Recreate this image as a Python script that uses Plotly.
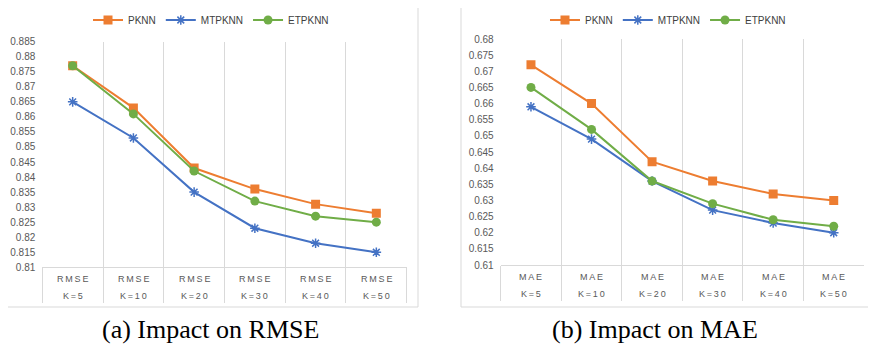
import plotly.graph_objects as go

# page body has an 8px margin; lay out in page pixel coordinates and shift
OFF = 8
PAGE_W, PAGE_H = 876, 346
W, H = PAGE_W - OFF, PAGE_H - OFF

categories = ["K=5", "K=10", "K=20", "K=30", "K=40", "K=50"]

rmse_pknn = [0.877, 0.863, 0.843, 0.836, 0.831, 0.828]
rmse_mtpknn = [0.865, 0.853, 0.835, 0.823, 0.818, 0.815]
rmse_etpknn = [0.877, 0.861, 0.842, 0.832, 0.827, 0.825]

mae_pknn = [0.672, 0.660, 0.642, 0.636, 0.632, 0.630]
mae_mtpknn = [0.659, 0.649, 0.636, 0.627, 0.623, 0.620]
mae_etpknn = [0.665, 0.652, 0.636, 0.629, 0.624, 0.622]

rmse_ticks = [0.81, 0.815, 0.82, 0.825, 0.83, 0.835, 0.84, 0.845, 0.85,
              0.855, 0.86, 0.865, 0.87, 0.875, 0.88, 0.885]
rmse_ticktext = ["0.81", "0.815", "0.82", "0.825", "0.83", "0.835", "0.84", "0.845",
                 "0.85", "0.855", "0.86", "0.865", "0.87", "0.875", "0.88", "0.885"]
mae_ticks = [0.61, 0.615, 0.62, 0.625, 0.63, 0.635, 0.64, 0.645,
             0.65, 0.655, 0.66, 0.665, 0.67, 0.675, 0.68]
mae_ticktext = ["0.61", "0.615", "0.62", "0.625", "0.63", "0.635", "0.64", "0.645",
                "0.65", "0.655", "0.66", "0.665", "0.67", "0.675", "0.68"]

series_names = ["PKNN", "MTPKNN", "ETPKNN"]
colors = ["#ED7D31", "#4472C4", "#70AD47"]
symbols = ["square", "asterisk-open", "circle"]
captions = ["(a) Impact on RMSE", "(b) Impact on MAE"]
metric_labels = ["RMSE", "MAE"]

GRID = "#D9D9D9"
TXT = "#595959"
FONT = "Liberation Sans"

fig = go.Figure()

panels = [
    dict(data=[rmse_pknn, rmse_mtpknn, rmse_etpknn], xa="x", ya="y", legend="legend"),
    dict(data=[mae_pknn, mae_mtpknn, mae_etpknn], xa="x2", ya="y2", legend="legend2"),
]

for p in panels:
    for name, vals, c, s in zip(series_names, p["data"], colors, symbols):
        fig.add_trace(go.Scatter(
            x=categories, y=vals, name=name, mode="lines+markers",
            line=dict(color=c, width=2),
            marker=dict(symbol=s, size=9 if s != "asterisk-open" else 8, color=c,
                        line=dict(color=c, width=1.5 if s == "asterisk-open" else 0)),
            xaxis=p["xa"], yaxis=p["ya"], legend=p["legend"],
        ))

def px_x(v):
    return (v - OFF) / W

def px_y(v):
    return 1 - (v - OFF) / H

xcommon = dict(
    type="category", range=[-0.5, 5.5], tickson="boundaries", ticks="outside",
    ticklen=35, tickcolor=GRID, tickwidth=1, showgrid=True, gridcolor=GRID, gridwidth=1,
    showline=True, linecolor=GRID, linewidth=1, showticklabels=False, zeroline=False,
    fixedrange=True, automargin=False,
)
ycommon = dict(
    showgrid=False, zeroline=False, showline=False, ticks="", automargin=False,
    tickfont=dict(family=FONT, size=10, color=TXT), ticklabelstandoff=6,
)

fig.update_layout(
    width=W, height=H, margin=dict(l=0, r=0, t=0, b=0, autoexpand=False),
    paper_bgcolor="white", plot_bgcolor="white", showlegend=True,
    xaxis=dict(domain=[px_x(42.3), px_x(406.7)], anchor="y", **xcommon),
    xaxis2=dict(domain=[px_x(500.7), px_x(864)], anchor="y2", **xcommon),
    yaxis=dict(domain=[px_y(267.3), px_y(41.7)], anchor="x", range=[0.81, 0.885],
               tickvals=rmse_ticks, ticktext=rmse_ticktext, **ycommon),
    yaxis2=dict(domain=[px_y(265), px_y(39)], anchor="x2", range=[0.61, 0.68],
                tickvals=mae_ticks, ticktext=mae_ticktext, **ycommon),
    legend=dict(orientation="h", x=px_x(211), y=px_y(20), xanchor="center", yanchor="middle",
                font=dict(family=FONT, size=10, color="#404040"), bgcolor="rgba(0,0,0,0)",
                itemwidth=30, tracegroupgap=0),
    legend2=dict(orientation="h", x=px_x(668), y=px_y(20), xanchor="center", yanchor="middle",
                 font=dict(family=FONT, size=10, color="#404040"), bgcolor="rgba(0,0,0,0)",
                 itemwidth=30, tracegroupgap=0),
)

# chart frames
shapes = [
    dict(type="rect", xref="paper", yref="paper", x0=px_x(4.5), x1=px_x(418), y0=px_y(307), y1=px_y(4.5),
         line=dict(color=GRID, width=1), fillcolor="rgba(0,0,0,0)", layer="below"),
    dict(type="rect", xref="paper", yref="paper", x0=px_x(461), x1=px_x(874), y0=px_y(307), y1=px_y(4.5),
         line=dict(color=GRID, width=1), fillcolor="rgba(0,0,0,0)", layer="below"),
]
fig.update_layout(shapes=shapes)

def spaced(t):
    return "\u2009".join(list(t))

ann = []
for xa, metric, y1, y2 in [("x", "RMSE", 279, 296), ("x2", "MAE", 277.3, 294)]:
    for c in categories:
        ann.append(dict(x=c, y=px_y(y1), xref=xa, yref="paper", text=spaced(metric),
                        showarrow=False, font=dict(family=FONT, size=9, color=TXT),
                        xanchor="center", yanchor="middle"))
        ann.append(dict(x=c, y=px_y(y2), xref=xa, yref="paper", text=spaced(c),
                        showarrow=False, font=dict(family=FONT, size=9, color=TXT),
                        xanchor="center", yanchor="middle"))
for cx, cap in zip([210, 655], captions):
    ann.append(dict(x=px_x(cx), y=px_y(329), xref="paper", yref="paper", text=cap,
                    showarrow=False, font=dict(family="Liberation Serif", size=26, color="black"),
                    xanchor="center", yanchor="middle"))
fig.update_layout(annotations=ann)

fig.write_html("out.html")
